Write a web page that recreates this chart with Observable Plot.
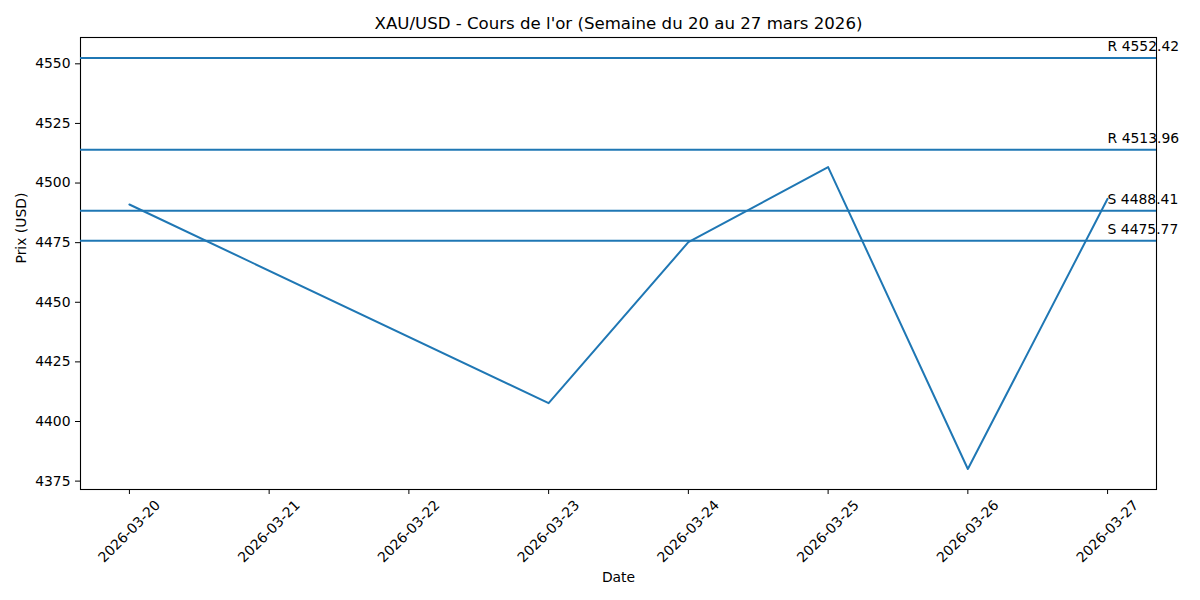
<!DOCTYPE html>
<html>
<head>
<meta charset="utf-8">
<script src="https://cdn.jsdelivr.net/npm/d3@7"></script>
<script src="https://cdn.jsdelivr.net/npm/@observablehq/plot@0.6"></script>
<style>
  html, body { margin: 0; padding: 0; background: #fff; }
  #chart svg { display: block; }
</style>
</head>
<body>
<div id="chart"></div>
<script>
const dates = ["2026-03-20", "2026-03-23", "2026-03-24", "2026-03-25", "2026-03-26", "2026-03-27"];
const prices = [4491.0, 4407.7, 4475.2, 4506.7, 4380.1, 4493.4];
const levelLabels = ["R", "R", "S", "S"];
const levelValues = [4552.42, 4513.96, 4488.41, 4475.77];
const xTickLabels = ["2026-03-20", "2026-03-21", "2026-03-22", "2026-03-23", "2026-03-24", "2026-03-25", "2026-03-26", "2026-03-27"];
const yTicks = [4375, 4400, 4425, 4450, 4475, 4500, 4525, 4550];
const title = "XAU/USD - Cours de l'or (Semaine du 20 au 27 mars 2026)";
const xLabel = "Date";
const yLabel = "Prix (USD)";

const parse = d3.utcParse("%Y-%m-%d");
const series = dates.map((d, i) => ({date: parse(d), price: prices[i]}));
const levels = levelValues.map((v, i) => ({value: v, label: `${levelLabels[i]} ${v.toFixed(2)}`, date: parse(dates[dates.length - 1])}));
const xTicks = xTickLabels.map(s => ({date: parse(s), label: s}));

const x0 = +parse(xTickLabels[0]), x1 = +parse(xTickLabels[xTickLabels.length - 1]);
const xPad = (x1 - x0) * 0.05;
const allY = prices.concat(levelValues);
const yMin = d3.min(allY), yMax = d3.max(allY);
const yPad = (yMax - yMin) * 0.05;

const blue = "#1f77b4";
const font = "DejaVu Sans, sans-serif";
const fs = "13.9px";

const chart = Plot.plot({
  width: 1200,
  height: 600,
  marginLeft: 80,
  marginRight: 44,
  marginTop: 37,
  marginBottom: 111,
  style: {fontFamily: font, fontSize: fs, color: "#000", background: "#fff"},
  x: {type: "utc", domain: [new Date(x0 - xPad), new Date(x1 + xPad)]},
  y: {domain: [yMin - yPad, yMax + yPad]},
  marks: [
    Plot.frame({stroke: "#000", strokeWidth: 1.1}),
    Plot.axisY({ticks: yTicks, tickSize: 5, tickPadding: 5, tickFormat: d => String(d), label: null, stroke: "#000", fontSize: fs}),
    Plot.axisX({ticks: xTicks.map(d => d.date), tickSize: 5, tickFormat: () => "", label: null, stroke: "#000"}),
    Plot.text(xTicks, {x: "date", text: "label", frameAnchor: "bottom", dy: 42, rotate: -45, textAnchor: "middle", lineAnchor: "middle", fontSize: fs, fill: "#000"}),
    Plot.ruleY(levels, {y: "value", stroke: blue, strokeWidth: 2}),
    Plot.text(levels, {x: "date", y: "value", text: "label", textAnchor: "start", lineAnchor: "bottom", dy: -7, fontSize: fs, fill: "#000"}),
    Plot.line(series, {x: "date", y: "price", stroke: blue, strokeWidth: 2}),
    Plot.text([title], {frameAnchor: "top", dy: -14, fontSize: "16.6px", lineAnchor: "middle", fill: "#000"}),
    Plot.text([xLabel], {frameAnchor: "bottom", dy: 88, fontSize: fs, lineAnchor: "middle", fill: "#000"}),
    Plot.text([yLabel], {frameAnchor: "left", dx: -59, rotate: -90, fontSize: fs, lineAnchor: "middle", fill: "#000"})
  ]
});
document.getElementById("chart").appendChild(chart);
</script>
</body>
</html>
